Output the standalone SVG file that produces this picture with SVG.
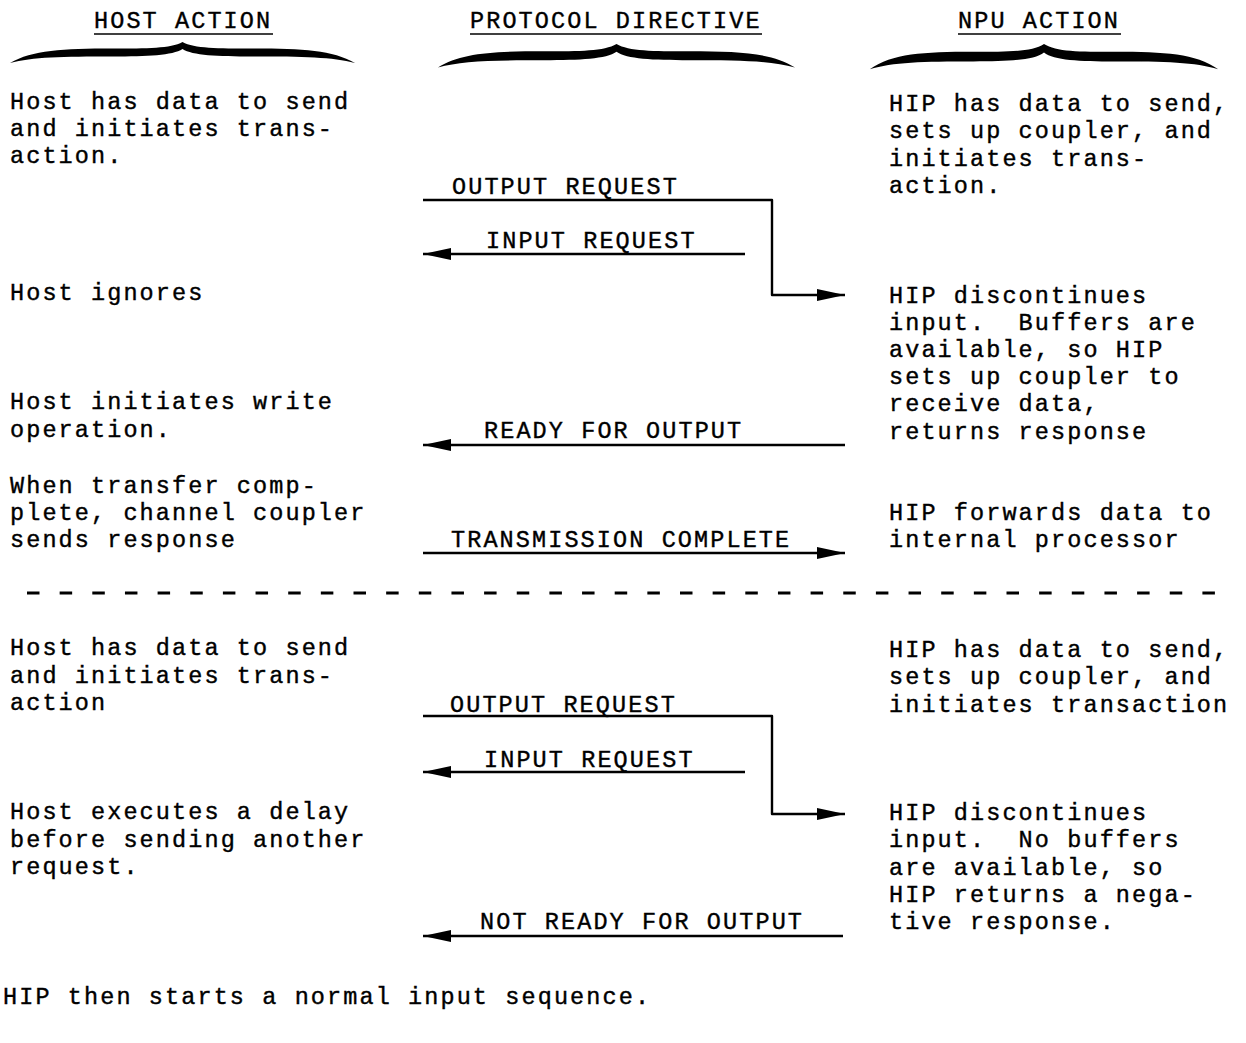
<svg xmlns="http://www.w3.org/2000/svg" width="1246" height="1043" viewBox="0 0 1246 1043">
<style>
  text { font-family: "Liberation Mono", "Courier New", monospace; font-size: 23.5px; letter-spacing: 2.1px; fill: #000; stroke: #000; stroke-width: 0.4; white-space: pre; }
  .ul { stroke: #000; stroke-width: 1.6; fill: none; }
  .ln { stroke: #000; stroke-width: 2.4; fill: none; stroke-linejoin: round; }
  .dash { stroke: #000; stroke-width: 3; stroke-dasharray: 12.5 20.15; fill: none; }
  .brace { fill: #000; }
</style>
<defs>
  <marker id="ah" markerUnits="userSpaceOnUse" markerWidth="29" markerHeight="13" refX="28" refY="6.5" orient="auto">
    <path d="M0,0.5 L28,6.5 L0,12.5 Z" fill="#000"/>
  </marker>
  <path id="bracePath" d="M-172.5,21 C-150,8 -120,6.5 -70,6.5 C-35,6.5 -12,6.5 0,0 C12,6.5 35,6.5 70,6.5 C120,6.5 150,8 172.5,21 C150,15 120,14.5 70,14.5 C35,14.5 10,13.5 0,7 C-10,13.5 -35,14.5 -70,14.5 C-120,14.5 -150,15 -172.5,21 Z"/>
</defs>
<rect width="1246" height="1043" fill="#fff"/>

<g id="header-host">
  <text x="94" y="28">HOST ACTION</text>
  <line class="ul" x1="94" y1="34" x2="273" y2="34"/>
  <use href="#bracePath" class="brace" transform="translate(182.5,42)"/>
</g>
<g id="header-protocol">
  <text x="470" y="28">PROTOCOL DIRECTIVE</text>
  <line class="ul" x1="470" y1="34" x2="762" y2="34"/>
  <use href="#bracePath" class="brace" transform="translate(616.5,44) scale(1.035,1.12)"/>
</g>
<g id="header-npu">
  <text x="958" y="28">NPU ACTION</text>
  <line class="ul" x1="958" y1="34" x2="1121" y2="34"/>
  <use href="#bracePath" class="brace" transform="translate(1044,44) scale(1.01,1.2)"/>
</g>

<g id="host1">
  <text x="10" y="109">Host has data to send</text>
  <text x="10" y="136">and initiates trans-</text>
  <text x="10" y="163">action.</text>
</g>
<g id="npu1">
  <text x="889" y="111">HIP has data to send,</text>
  <text x="889" y="138">sets up coupler, and</text>
  <text x="889" y="166">initiates trans-</text>
  <text x="889" y="193">action.</text>
</g>
<g id="host2">
  <text x="10" y="300">Host ignores</text>
</g>
<g id="npu2">
  <text x="889" y="303">HIP discontinues</text>
  <text x="889" y="330">input.  Buffers are</text>
  <text x="889" y="357">available, so HIP</text>
  <text x="889" y="384">sets up coupler to</text>
  <text x="889" y="411">receive data,</text>
  <text x="889" y="439">returns response</text>
</g>
<g id="host3">
  <text x="10" y="409">Host initiates write</text>
  <text x="10" y="437">operation.</text>
</g>
<g id="host4">
  <text x="10" y="493">When transfer comp-</text>
  <text x="10" y="520">plete, channel coupler</text>
  <text x="10" y="547">sends response</text>
</g>
<g id="npu3">
  <text x="889" y="520">HIP forwards data to</text>
  <text x="889" y="547">internal processor</text>
</g>

<g id="host5">
  <text x="10" y="655">Host has data to send</text>
  <text x="10" y="683">and initiates trans-</text>
  <text x="10" y="710">action</text>
</g>
<g id="npu4">
  <text x="889" y="657">HIP has data to send,</text>
  <text x="889" y="684">sets up coupler, and</text>
  <text x="889" y="712">initiates transaction</text>
</g>
<g id="host6">
  <text x="10" y="819">Host executes a delay</text>
  <text x="10" y="847">before sending another</text>
  <text x="10" y="874">request.</text>
</g>
<g id="npu5">
  <text x="889" y="820">HIP discontinues</text>
  <text x="889" y="847">input.  No buffers</text>
  <text x="889" y="875">are available, so</text>
  <text x="889" y="902">HIP returns a nega-</text>
  <text x="889" y="929">tive response.</text>
</g>
<g id="footer">
  <text x="3" y="1004">HIP then starts a normal input sequence.</text>
</g>

<g id="connectors">
  <text x="452" y="194">OUTPUT REQUEST</text>
  <path class="ln" d="M423,200 H772 V295 H845" marker-end="url(#ah)"/>
  <text x="486" y="248">INPUT REQUEST</text>
  <path class="ln" d="M745,254 H423" marker-end="url(#ah)"/>
  <text x="484" y="438">READY FOR OUTPUT</text>
  <path class="ln" d="M845,445 H423" marker-end="url(#ah)"/>
  <text x="451" y="547">TRANSMISSION COMPLETE</text>
  <path class="ln" d="M423,553 H845" marker-end="url(#ah)"/>
  <path class="dash" d="M27,593 H1215"/>
  <text x="450" y="712">OUTPUT REQUEST</text>
  <path class="ln" d="M423,716 H772 V814 H845" marker-end="url(#ah)"/>
  <text x="484" y="767">INPUT REQUEST</text>
  <path class="ln" d="M745,772 H423" marker-end="url(#ah)"/>
  <text x="480" y="929">NOT READY FOR OUTPUT</text>
  <path class="ln" d="M843,936 H423" marker-end="url(#ah)"/>
</g>
</svg>
